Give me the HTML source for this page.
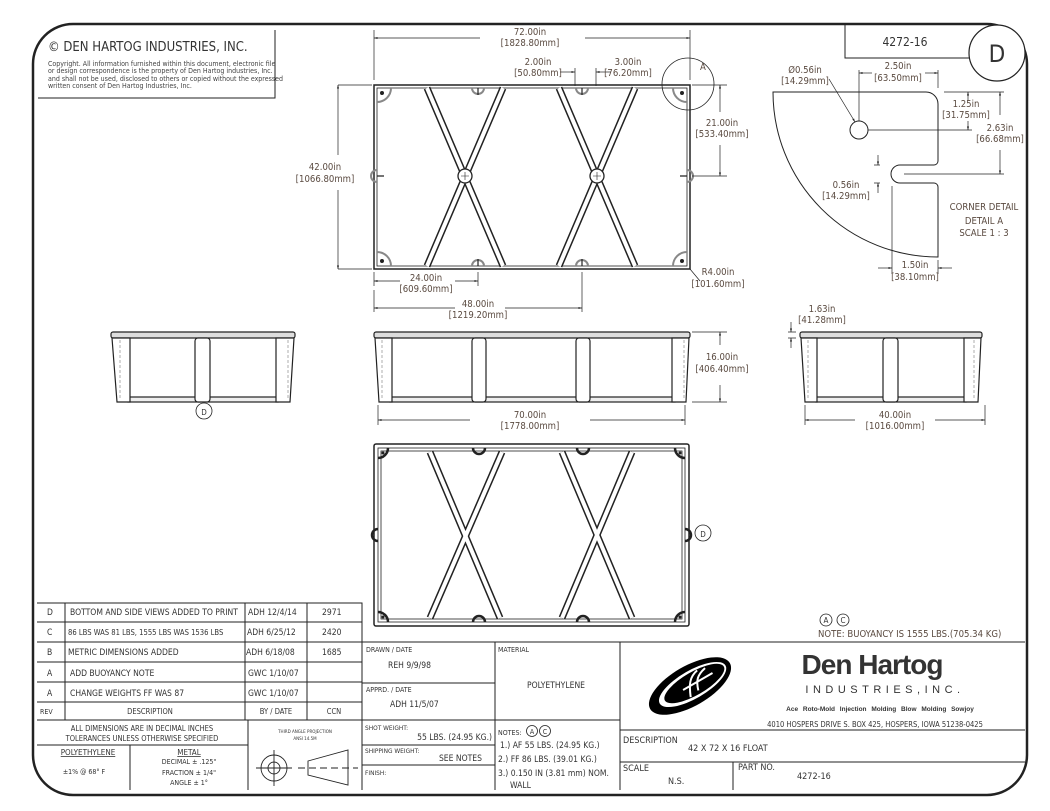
<!DOCTYPE html>
<html><head><meta charset="utf-8"><style>
html,body{margin:0;padding:0;background:#fff;}
svg{display:block;}
text{font-family:"DejaVu Sans Condensed","Liberation Sans",sans-serif;fill:#333;}
.d{font-size:9.5px;fill:#5a4a40;}
.t{font-size:9px;fill:#333;}
.s{font-size:7px;fill:#444;}
</style></head><body>
<svg width="1050" height="811" viewBox="0 0 1050 811" xmlns="http://www.w3.org/2000/svg">
<defs>
<marker id="a" viewBox="0 0 10 10" refX="10" refY="5" markerWidth="7" markerHeight="5" orient="auto-start-reverse"><path d="M0,2 L10,5 L0,8 z" fill="#222"/></marker>
</defs>
<path d="M73,24 H987 A40,40 0 0 1 1027,64 V755 A40,40 0 0 1 987,795 H73 A40,40 0 0 1 33,755 V64 A40,40 0 0 1 73,24 Z" fill="none" stroke="#222" stroke-width="2.5"/>
<path d="M38,98 H275 V30" fill="none" stroke="#222" stroke-width="1"/>
<text x="48" y="51" font-size="13" fill="#333">© DEN HARTOG INDUSTRIES, INC.</text>
<text x="48" y="66" class="s" font-size="5.5">Copyright. All information furnished within this document, electronic file</text>
<text x="48" y="73" class="s" font-size="5.5">or design correspondence is the property of Den Hartog industries, Inc.</text>
<text x="48" y="81" class="s" font-size="5.5">and shall not be used, disclosed to others or copied without the expressed</text>
<text x="48" y="88" class="s" font-size="5.5">written consent of Den Hartog Industries, Inc.</text>
<path d="M845,24 V58 H975" fill="none" stroke="#222" stroke-width="1"/>
<text x="905" y="46" font-size="12" text-anchor="middle">4272-16</text>
<circle cx="997" cy="53" r="28" fill="#fff" stroke="#222" stroke-width="1.2"/>
<text x="997" y="62" font-size="24" text-anchor="middle" fill="#111">D</text>

<!-- TOP VIEW -->
<g fill="none" stroke="#222">
<rect x="374" y="85" width="316" height="184" stroke-width="1.5"/>
<rect x="377" y="88" width="310" height="178" stroke-width="0.8"/>
<g stroke-width="7"><line x1="427" y1="88" x2="503" y2="266"/><line x1="503" y1="88" x2="427" y2="266"/><line x1="559" y1="88" x2="635" y2="266"/><line x1="635" y1="88" x2="559" y2="266"/></g>
<g stroke-width="4" stroke="#fff"><line x1="427" y1="88" x2="503" y2="266"/><line x1="503" y1="88" x2="427" y2="266"/><line x1="559" y1="88" x2="635" y2="266"/><line x1="635" y1="88" x2="559" y2="266"/></g>
<circle cx="465" cy="176" r="7" stroke-width="1.3" fill="#fff"/><circle cx="597" cy="176" r="7" stroke-width="1.3" fill="#fff"/>
<path d="M461,176h8M465,172v8M593,176h8M597,172v8" stroke-width="0.6"/>
<g stroke="#888" stroke-width="2">
<path d="M472,88 a6,6 0 0 0 12,0 M576,88 a6,6 0 0 0 12,0 M472,266 a6,6 0 0 1 12,0 M576,266 a6,6 0 0 1 12,0 M377,170 a6,6 0 0 0 0,12 M687,170 a6,6 0 0 1 0,12"/>
<path d="M377,102 a14,14 0 0 0 14,-14 M687,102 a14,14 0 0 1 -14,-14 M377,252 a14,14 0 0 1 14,14 M687,252 a14,14 0 0 0 -14,14"/>
</g>
<path d="M478,88v7M582,88v7M478,266v-7M582,266v-7M377,176h7M687,176h-7" stroke-width="1.2"/>
<circle cx="382" cy="93" r="1.5" fill="#222"/><circle cx="682" cy="93" r="1.5" fill="#222"/><circle cx="382" cy="261" r="1.5" fill="#222"/><circle cx="682" cy="261" r="1.5" fill="#222"/>
<circle cx="688" cy="84" r="26" stroke-width="0.8"/>
</g>
<text x="700" y="70" class="d">A</text>
<g stroke="#222" stroke-width="0.7" fill="none">
<path d="M374,80V30M690,80V30M338,85h34M338,269h34M692,85h35M692,176h35M374,272v14M478,272v14M582,272v40M374,290v22"/>
<line x1="374" y1="38" x2="480" y2="38" marker-start="url(#a)"/><line x1="585" y1="38" x2="690" y2="38" marker-end="url(#a)"/>
<line x1="338" y1="85" x2="338" y2="155" marker-start="url(#a)"/><line x1="338" y1="190" x2="338" y2="269" marker-end="url(#a)"/>
<line x1="720" y1="85" x2="720" y2="112" marker-start="url(#a)"/><line x1="720" y1="145" x2="720" y2="176" marker-end="url(#a)"/>
<line x1="374" y1="281" x2="400" y2="281" marker-start="url(#a)"/><line x1="455" y1="281" x2="478" y2="281" marker-end="url(#a)"/>
<line x1="374" y1="308" x2="455" y2="308" marker-start="url(#a)"/><line x1="505" y1="308" x2="582" y2="308" marker-end="url(#a)"/>
<path d="M575,68v18M596,68v18"/>
<line x1="560" y1="72" x2="575" y2="72" marker-end="url(#a)"/><line x1="611" y1="72" x2="596" y2="72" marker-end="url(#a)"/>
<path d="M690,269 l10,12"/>
</g>
<text x="530" y="35" class="d" text-anchor="middle">72.00in</text><text x="530" y="46" class="d" text-anchor="middle">[1828.80mm]</text>
<text x="325" y="170" class="d" text-anchor="middle">42.00in</text><text x="325" y="182" class="d" text-anchor="middle">[1066.80mm]</text>
<text x="722" y="126" class="d" text-anchor="middle">21.00in</text><text x="722" y="137" class="d" text-anchor="middle">[533.40mm]</text>
<text x="426" y="281" class="d" text-anchor="middle">24.00in</text><text x="426" y="292" class="d" text-anchor="middle">[609.60mm]</text>
<text x="478" y="307" class="d" text-anchor="middle">48.00in</text><text x="478" y="318" class="d" text-anchor="middle">[1219.20mm]</text>
<text x="538" y="65" class="d" text-anchor="middle">2.00in</text><text x="538" y="76" class="d" text-anchor="middle">[50.80mm]</text>
<text x="628" y="65" class="d" text-anchor="middle">3.00in</text><text x="628" y="76" class="d" text-anchor="middle">[76.20mm]</text>
<text x="718" y="275" class="d" text-anchor="middle">R4.00in</text><text x="718" y="287" class="d" text-anchor="middle">[101.60mm]</text>

<!-- CORNER DETAIL -->
<g fill="none" stroke="#222" stroke-width="1">
<path d="M773,92 H926 A12,12 0 0 1 938,104 V161 A4,4 0 0 1 934,165 H900 A9,9 0 0 0 900,183 H934 A4,4 0 0 1 938,187 V257 A165,165 0 0 1 773,92 Z"/>
<circle cx="859" cy="130" r="9"/>
</g>
<g fill="none" stroke="#222" stroke-width="0.7">
<path d="M859,121V70M938,88V70M944,92h60M868,130h104M904,174h100M880,165h-6M880,183h-6M892,186v88M938,260v14"/>
<line x1="872" y1="73" x2="859" y2="73" marker-end="url(#a)"/><line x1="925" y1="73" x2="938" y2="73" marker-end="url(#a)"/>
<line x1="968" y1="100" x2="968" y2="92" marker-end="url(#a)"/><line x1="968" y1="121" x2="968" y2="130" marker-end="url(#a)"/>
<line x1="1000" y1="115" x2="1000" y2="92" marker-end="url(#a)"/><line x1="1000" y1="150" x2="1000" y2="174" marker-end="url(#a)"/>
<line x1="878" y1="155" x2="878" y2="165" marker-end="url(#a)"/><line x1="878" y1="193" x2="878" y2="183" marker-end="url(#a)"/>
<line x1="878" y1="268" x2="892" y2="268" marker-end="url(#a)"/><line x1="952" y1="268" x2="938" y2="268" marker-end="url(#a)"/>
<line x1="829" y1="79" x2="855" y2="122" marker-end="url(#a)"/>
</g>
<text x="805" y="73" class="d" text-anchor="middle">Ø0.56in</text><text x="805" y="84" class="d" text-anchor="middle">[14.29mm]</text>
<text x="898" y="69" class="d" text-anchor="middle">2.50in</text><text x="898" y="81" class="d" text-anchor="middle">[63.50mm]</text>
<text x="966" y="107" class="d" text-anchor="middle">1.25in</text><text x="966" y="118" class="d" text-anchor="middle">[31.75mm]</text>
<text x="1000" y="131" class="d" text-anchor="middle">2.63in</text><text x="1000" y="142" class="d" text-anchor="middle">[66.68mm]</text>
<text x="846" y="188" class="d" text-anchor="middle">0.56in</text><text x="846" y="199" class="d" text-anchor="middle">[14.29mm]</text>
<text x="915" y="268" class="d" text-anchor="middle">1.50in</text><text x="915" y="280" class="d" text-anchor="middle">[38.10mm]</text>
<text x="984" y="210" class="d" text-anchor="middle" fill="#444">CORNER DETAIL</text>
<text x="984" y="224" class="d" text-anchor="middle" fill="#444">DETAIL A</text>
<text x="984" y="236" class="d" text-anchor="middle" fill="#444">SCALE 1 : 3</text>

<!-- SIDE VIEWS -->
<g fill="none" stroke="#222" stroke-width="1.2">
<rect x="111" y="332" width="184" height="6" rx="2" fill="#ddd"/>
<rect x="128" y="397" width="150" height="5" fill="#eee"/>
<path d="M112,338 H130 V402 H117 Z" fill="#fff"/><rect x="195" y="338" width="15" height="64" rx="3" fill="#fff"/><path d="M276,338 H294 L290,402 H276 Z" fill="#fff"/>
<rect x="374" y="332" width="316" height="6" rx="2" fill="#ddd"/>
<rect x="390" y="397" width="285" height="5" fill="#eee"/>
<path d="M375,338 H392 V402 H379 Z" fill="#fff"/><rect x="472" y="338" width="14" height="64" rx="3" fill="#fff"/><rect x="576" y="338" width="14" height="64" rx="3" fill="#fff"/><path d="M672,338 H689 L686,402 H672 Z" fill="#fff"/>
<rect x="800" y="332" width="182" height="6" rx="2" fill="#ddd"/>
<rect x="816" y="397" width="150" height="5" fill="#eee"/>
<path d="M801,338 H817 V402 H805 Z" fill="#fff"/><rect x="883" y="338" width="15" height="64" rx="3" fill="#fff"/><path d="M964,338 H981 L978,402 H964 Z" fill="#fff"/>
</g>
<g stroke="#999" stroke-width="0.8" stroke-dasharray="3,2"><path d="M120,340V400M288,340V400M382,340V400M684,340V400M808,340V400M974,340V400"/></g>
<circle cx="204" cy="411" r="8" fill="#fff" stroke="#222" stroke-width="0.8"/><text x="204" y="415" font-size="8" text-anchor="middle" fill="#a66">D</text>
<g fill="none" stroke="#222" stroke-width="0.7">
<path d="M692,332h35M692,402h35M378,405v20M685,405v20M805,405v20M985,405v20M796,332h-8M796,338h-8"/>
<line x1="720" y1="345" x2="720" y2="332" marker-end="url(#a)"/><line x1="720" y1="385" x2="720" y2="402" marker-end="url(#a)"/>
<line x1="470" y1="420" x2="378" y2="420" marker-end="url(#a)"/><line x1="590" y1="420" x2="685" y2="420" marker-end="url(#a)"/>
<line x1="855" y1="420" x2="805" y2="420" marker-end="url(#a)"/><line x1="935" y1="420" x2="985" y2="420" marker-end="url(#a)"/>
<line x1="791" y1="322" x2="791" y2="332" marker-end="url(#a)"/><line x1="791" y1="348" x2="791" y2="338" marker-end="url(#a)"/>
</g>
<text x="722" y="360" class="d" text-anchor="middle">16.00in</text><text x="722" y="372" class="d" text-anchor="middle">[406.40mm]</text>
<text x="530" y="418" class="d" text-anchor="middle">70.00in</text><text x="530" y="429" class="d" text-anchor="middle">[1778.00mm]</text>
<text x="895" y="418" class="d" text-anchor="middle">40.00in</text><text x="895" y="429" class="d" text-anchor="middle">[1016.00mm]</text>
<text x="822" y="312" class="d" text-anchor="middle">1.63in</text><text x="822" y="323" class="d" text-anchor="middle">[41.28mm]</text>

<!-- BOTTOM VIEW -->
<g fill="none" stroke="#222">
<rect x="374" y="444" width="315" height="182" rx="2" stroke-width="1.5"/>
<rect x="378" y="448" width="307" height="174" stroke-width="0.8"/>
<rect x="381" y="451" width="301" height="168" stroke-width="0.8"/>
<g stroke-width="7"><line x1="430" y1="452" x2="500" y2="618"/><line x1="502" y1="452" x2="430" y2="618"/><line x1="562" y1="452" x2="632" y2="618"/><line x1="632" y1="452" x2="562" y2="618"/></g>
<g stroke-width="4" stroke="#fff"><line x1="430" y1="452" x2="500" y2="618"/><line x1="502" y1="452" x2="430" y2="618"/><line x1="562" y1="452" x2="632" y2="618"/><line x1="632" y1="452" x2="562" y2="618"/></g>
<g stroke-width="2.5">
<path d="M473,448 a6,6 0 0 0 12,0 M577,448 a6,6 0 0 0 12,0 M473,622 a6,6 0 0 1 12,0 M577,622 a6,6 0 0 1 12,0 M378,529 a6,6 0 0 0 0,12 M685,529 a6,6 0 0 1 0,12"/>
<path d="M378,458 a10,10 0 0 0 10,-10 M685,458 a10,10 0 0 1 -10,-10 M378,612 a10,10 0 0 1 10,10 M685,612 a10,10 0 0 0 -10,10"/>
</g>
</g>
<circle cx="383" cy="453" r="1.5" fill="#222"/><circle cx="680" cy="453" r="1.5" fill="#222"/><circle cx="383" cy="617" r="1.5" fill="#222"/><circle cx="680" cy="617" r="1.5" fill="#222"/>
<circle cx="703" cy="533" r="8" fill="#fff" stroke="#222" stroke-width="0.8"/><text x="703" y="537" font-size="8" text-anchor="middle" fill="#56a">D</text>

<circle cx="826" cy="620" r="6" fill="none" stroke="#222" stroke-width="0.8"/><text x="826" y="623" font-size="8" text-anchor="middle">A</text>
<circle cx="843" cy="620" r="6" fill="none" stroke="#222" stroke-width="0.8"/><text x="843" y="623" font-size="8" text-anchor="middle">C</text>
<text x="818" y="637" class="d">NOTE: BUOYANCY IS 1555 LBS.(705.34 KG)</text>

<g fill="none" stroke="#222" stroke-width="1">
<path d="M37,603 H362 V790 M65,603 V720 M245,603 V720 M307,603 V720"/>
<path d="M37,622H362M37,642H362M37,662H362M37,682H362M37,702H362M37,720H362M37,745H248M130,745V790M248,720V790"/>
<path d="M362,642 H1025 M495,642 V790 M620,642 V790 M362,683 H495 M362,720 H620 M362,745 H495 M362,765 H495 M620,730 H1025 M620,762 H1025 M733,762 V790"/>
</g>
<g class="t" font-size="8.5">
<text x="47" y="615" font-size="8.5">D</text><text x="70" y="615" font-size="8.5">BOTTOM AND SIDE VIEWS ADDED TO PRINT</text><text x="248" y="615" font-size="8.5">ADH 12/4/14</text><text x="322" y="615" font-size="8.5">2971</text>
<text x="47" y="635" font-size="8.5">C</text><text x="68" y="635" font-size="7.6">86 LBS WAS 81 LBS, 1555 LBS WAS 1536 LBS</text><text x="247" y="635" font-size="8.5">ADH 6/25/12</text><text x="322" y="635" font-size="8.5">2420</text>
<text x="47" y="655" font-size="8.5">B</text><text x="68" y="655" font-size="8.5">METRIC DIMENSIONS ADDED</text><text x="246" y="655" font-size="8.5">ADH 6/18/08</text><text x="322" y="655" font-size="8.5">1685</text>
<text x="47" y="676" font-size="8.5">A</text><text x="70" y="676" font-size="8.5">ADD BUOYANCY NOTE</text><text x="248" y="676" font-size="8.5">GWC 1/10/07</text>
<text x="47" y="696" font-size="8.5">A</text><text x="70" y="696" font-size="8.5">CHANGE WEIGHTS       FF WAS 87</text><text x="248" y="696" font-size="8.5">GWC 1/10/07</text>
<text x="40" y="714" font-size="7">REV</text><text x="150" y="714" font-size="7.5" text-anchor="middle">DESCRIPTION</text><text x="276" y="714" font-size="7.5" text-anchor="middle">BY / DATE</text><text x="334" y="714" font-size="7.5" text-anchor="middle">CCN</text>
<text x="142" y="731" font-size="7.5" text-anchor="middle">ALL DIMENSIONS ARE IN DECIMAL INCHES</text>
<text x="142" y="741" font-size="7.5" text-anchor="middle">TOLERANCES UNLESS OTHERWISE SPECIFIED</text>
<text x="88" y="755" font-size="8" text-anchor="middle" text-decoration="underline">POLYETHYLENE</text>
<text x="84" y="774" font-size="7" text-anchor="middle">±1% @ 68° F</text>
<text x="189" y="755" font-size="8" text-anchor="middle" text-decoration="underline">METAL</text>
<text x="189" y="764" font-size="7" text-anchor="middle">DECIMAL ± .125"</text>
<text x="189" y="775" font-size="7" text-anchor="middle">FRACTION ± 1/4"</text>
<text x="189" y="785" font-size="7" text-anchor="middle">ANGLE ± 1°</text>
<text x="305" y="733" font-size="4.5" text-anchor="middle">THIRD ANGLE PROJECTION</text>
<text x="305" y="740" font-size="4.5" text-anchor="middle">ANSI 14.5M</text>
</g>
<g fill="none" stroke="#222" stroke-width="0.9">
<circle cx="274" cy="768" r="13"/><circle cx="274" cy="768" r="6"/>
<path d="M256,768h36M274,750v36M308,761 L348,750 V785 L308,775 Z"/>
<path d="M298,768h60" stroke-dasharray="7,4"/>
</g>
<g class="t">
<text x="366" y="652" font-size="7">DRAWN / DATE</text><text x="388" y="668" font-size="8.5">REH 9/9/98</text>
<text x="366" y="692" font-size="7">APPRD. / DATE</text><text x="390" y="707" font-size="8.5">ADH 11/5/07</text>
<text x="498" y="652" font-size="7">MATERIAL</text><text x="556" y="688" font-size="8.5" text-anchor="middle">POLYETHYLENE</text>
<text x="365" y="730" font-size="6.5">SHOT WEIGHT:</text><text x="492" y="740" font-size="8.5" text-anchor="end">55 LBS. (24.95 KG.)</text>
<text x="365" y="753" font-size="6.5">SHIPPING WEIGHT:</text><text x="482" y="761" font-size="8.5" text-anchor="end">SEE NOTES</text>
<text x="365" y="775" font-size="6.5">FINISH:</text>
<text x="498" y="735" font-size="7">NOTES:</text>
<text x="500" y="748" font-size="8.5">1.) AF 55 LBS. (24.95 KG.)</text>
<text x="498" y="762" font-size="8.5">2.) FF 86 LBS. (39.01 KG.)</text>
<text x="498" y="776" font-size="8.5">3.) 0.150 IN (3.81 mm) NOM.</text>
<text x="510" y="788" font-size="8.5">WALL</text>
</g>
<circle cx="532" cy="731" r="5.5" fill="none" stroke="#222" stroke-width="0.8"/><text x="532" y="734" font-size="7" text-anchor="middle">A</text>
<circle cx="545" cy="731" r="5.5" fill="none" stroke="#222" stroke-width="0.8"/><text x="545" y="734" font-size="7" text-anchor="middle">C</text>
<g transform="translate(690,686) rotate(-30)">
<ellipse rx="46" ry="20" fill="#000"/>
<ellipse rx="38" ry="14" fill="#fff" transform="translate(3,0)"/>
<ellipse rx="34" ry="11.5" fill="#000" transform="translate(5,0)"/>
<path d="M-5,10 C0,-2 4,-8 14,-10 M5,8 C8,-2 12,-6 22,-8 M-8,0 H26" stroke="#fff" stroke-width="2" fill="none"/>
</g>
<text x="872" y="674" font-size="28" font-weight="bold" text-anchor="middle" fill="#000" style="font-family:'Liberation Sans',sans-serif" letter-spacing="-1">Den Hartog</text>
<text x="885" y="693" font-size="11" text-anchor="middle" fill="#000" letter-spacing="4.5" style="font-family:'Liberation Sans',sans-serif">INDUSTRIES,INC.</text>
<text x="880" y="711" font-size="6.5" font-weight="bold" text-anchor="middle" fill="#000" style="font-family:'Liberation Sans',sans-serif" word-spacing="3">Ace Roto-Mold  Injection Molding  Blow Molding  Sowjoy</text>
<text x="875" y="727" font-size="7.5" text-anchor="middle" fill="#444">4010 HOSPERS DRIVE S.  BOX 425, HOSPERS, IOWA 51238-0425</text>
<text x="623" y="743" font-size="7" class="t">DESCRIPTION</text>
<text x="688" y="751" font-size="11" class="t">42 X 72 X 16 FLOAT</text>
<text x="623" y="771" font-size="7" class="t">SCALE</text><text x="668" y="784" font-size="10" class="t">N.S.</text>
<text x="738" y="770" font-size="7" class="t">PART NO.</text><text x="797" y="779" font-size="10" class="t">4272-16</text>
</svg>
</body></html>
